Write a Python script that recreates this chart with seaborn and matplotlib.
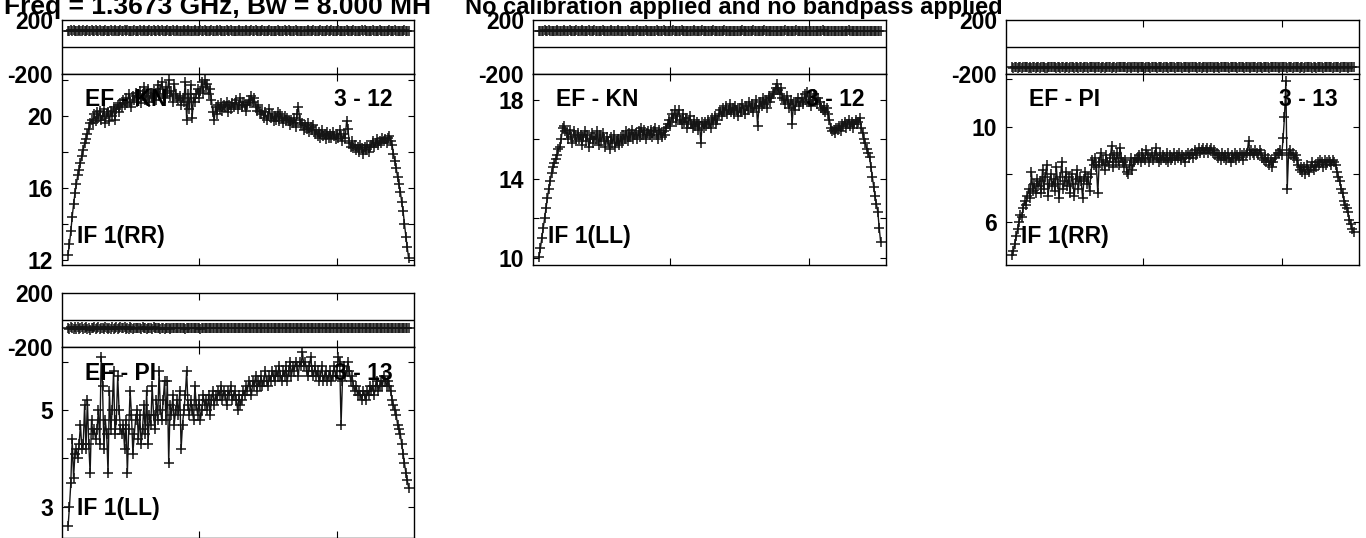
import numpy as np
import pandas as pd
import matplotlib
matplotlib.use("Agg")
import matplotlib.pyplot as plt
import seaborn as sns

# ---------------- data ----------------
FIRST_CHANNEL = 5
title_left = "Freq = 1.3673 GHz, Bw = 8.000 MH"
title_right = "No calibration applied and no bandpass applied"

baselines = ["EF - KN", "EF - KN", "EF - PI", "EF - PI"]
antenna_pairs = ["3 - 12", "3 - 12", "3 - 13", "3 - 13"]
if_labels = ["IF 1(RR)", "IF 1(LL)", "IF 1(RR)", "IF 1(LL)"]

amp_kn_rr = [
    12.3, 12.9, 13.6, 14.4, 15.1, 15.7, 16.2, 16.7, 17.0, 17.4,
    17.8, 18.1, 18.5, 18.7, 19.0, 19.3, 19.6, 19.8, 19.6, 20.1,
    19.7, 20.2, 19.9, 20.3, 19.8, 20.0, 20.4, 19.6, 20.1, 20.2,
    19.7, 20.3, 20.0, 20.5, 19.8, 20.4, 20.6, 20.2, 20.7, 20.5,
    20.9, 20.6, 21.0, 20.7, 21.2, 20.8, 20.5, 21.1, 20.9, 21.3,
    20.8, 21.0, 21.4, 20.7, 21.2, 21.6, 20.9, 21.1, 21.5, 20.8,
    21.3, 21.0, 21.4, 21.2, 20.9, 21.7, 21.1, 21.5, 21.9, 21.2,
    21.0, 21.6, 21.3, 22.0, 21.1, 21.4, 20.8, 21.8, 21.2, 21.0,
    20.9, 21.1, 20.6, 21.0, 20.8, 21.9, 19.8, 21.2, 20.4, 21.7,
    19.9, 21.0, 20.8, 21.2, 21.5, 21.0, 21.4, 21.9, 21.3, 22.0,
    21.6, 21.8, 21.2, 21.5, 20.9, 20.2, 19.8, 20.5, 20.1, 20.6,
    20.4, 20.7, 20.3, 20.6, 20.5, 20.8, 20.2, 20.6, 20.4, 20.7,
    20.5, 20.7, 20.9, 20.4, 20.6, 21.0, 20.5, 20.8, 20.6, 20.3,
    20.6, 20.9, 20.7, 21.1, 20.8, 21.0, 20.5, 20.3, 20.6, 20.2,
    20.1, 20.3, 19.9, 20.2, 19.8, 20.0, 20.4, 19.9, 20.1, 19.7,
    20.0, 19.8, 20.2, 19.7, 20.1, 19.9, 19.6, 20.0, 19.8, 19.9,
    19.7, 19.5, 19.8, 19.6, 19.9, 19.4, 20.1, 20.5, 19.8, 19.5,
    19.6, 19.2, 19.5, 19.3, 19.6, 19.1, 19.4, 19.2, 19.5, 19.0,
    19.2, 18.9, 19.1, 18.8, 19.2, 18.9, 19.0, 18.7, 19.1, 18.8,
    19.0, 18.8, 19.1, 18.9, 18.7, 19.0, 18.8, 19.2, 18.9, 18.6,
    19.0, 18.8, 19.7, 19.3, 18.5, 18.3, 18.6, 18.2, 18.4, 18.1,
    18.3, 18.0, 18.4, 18.2, 17.9, 18.3, 18.1, 18.4, 18.0, 18.3,
    18.4, 18.6, 18.3, 18.5, 18.7, 18.4, 18.6, 18.5, 18.8, 18.6,
    18.7, 18.5, 18.8, 18.9, 18.6, 18.4, 17.9, 17.5, 17.1, 16.6,
    16.2, 15.8, 15.2, 14.7, 14.0, 13.3, 12.7, 12.1,
]

amp_kn_ll = [
    10.05, 10.5, 11.0, 11.5, 12.0, 12.5, 13.0, 13.5, 13.9, 14.3,
    14.6, 14.8, 15.0, 15.2, 15.5, 15.6, 16.0, 16.6, 16.7, 16.4,
    16.3, 16.0, 16.5, 16.1, 15.8, 16.4, 16.2, 15.9, 16.3, 16.0,
    16.2, 15.7, 16.1, 16.4, 15.9, 16.2, 15.6, 16.0, 16.3, 15.8,
    16.1, 16.0, 16.4, 15.7, 16.2, 15.9, 16.3, 16.0, 15.6, 16.1,
    15.9, 15.5, 16.1, 15.8, 16.2, 15.6, 15.9, 16.0, 15.7, 16.1,
    15.8, 16.2, 16.0, 16.4, 15.9, 16.3, 16.1, 16.5, 16.0, 16.2,
    16.3, 16.0, 16.4, 16.1, 16.6, 16.2, 16.5, 16.0, 16.3, 16.4,
    16.2, 16.5, 16.1, 16.4, 16.6, 16.2, 16.0, 16.5, 16.3, 16.1,
    16.4, 16.2, 16.6, 16.8, 17.0, 16.7, 17.3, 17.1, 17.5, 16.9,
    17.2, 17.5, 17.0, 16.8, 17.3, 16.9, 17.1, 16.6, 16.9, 17.2,
    16.8, 16.6, 17.0, 16.7, 16.9, 16.5, 16.8, 15.8, 16.9, 16.6,
    16.9, 16.7, 17.0, 16.8, 16.6, 17.1, 16.9, 17.2, 16.8, 17.0,
    17.3, 17.5, 17.2, 17.6, 17.4, 17.7, 17.3, 17.5, 17.8, 17.4,
    17.6, 17.3, 17.7, 17.5, 17.2, 17.6, 17.4, 17.8, 17.5, 17.3,
    17.7, 17.5, 17.9, 17.6, 17.8, 17.4, 17.7, 18.0, 16.7, 17.6,
    17.9, 17.7, 18.1, 17.8, 18.0, 17.6, 18.2, 17.9, 18.1, 18.3,
    18.4, 18.6, 18.8, 18.5, 18.3, 18.6, 18.1, 18.0, 17.8, 18.2,
    17.9, 17.6, 18.0, 16.8, 17.8, 17.5, 17.9, 18.1, 17.7, 17.9,
    18.1, 17.8, 18.3, 18.0, 18.4, 17.9, 18.2, 17.7, 18.0, 18.3,
    18.0, 17.8, 18.1, 17.9, 17.6, 17.5, 17.7, 17.4, 17.6, 17.3,
    17.0, 16.6, 16.4, 16.5, 16.3, 16.6, 16.5, 16.7, 16.4, 16.8,
    16.7, 16.9, 16.6, 16.8, 17.0, 16.7, 16.9, 16.6, 16.8, 17.0,
    16.8, 16.9, 17.1, 16.6, 16.3, 16.0, 15.8, 15.5, 15.3, 15.1,
    14.6, 14.1, 13.6, 13.1, 12.7, 12.3, 11.5, 10.8,
]

amp_pi_rr = [
    4.6, 4.8, 5.1, 5.4, 5.7, 6.0, 6.3, 6.2, 6.6, 6.9,
    6.7, 7.1, 7.4, 7.0, 8.1, 7.3, 7.6, 7.2, 7.8, 7.5,
    7.7, 7.2, 8.2, 7.4, 7.9, 8.4, 7.1, 7.6, 8.0, 7.5,
    7.8, 7.3, 8.3, 7.6, 7.0, 7.9, 8.5, 7.4, 7.7, 8.1,
    7.5, 7.9, 7.2, 8.0, 7.6, 7.1, 7.8, 8.2, 7.4, 7.9,
    7.7, 7.0, 7.8, 8.1, 7.6, 7.9, 7.3, 8.0, 8.6, 8.4,
    8.7, 8.3, 7.2, 8.5, 8.9, 8.4, 8.6, 8.2, 8.8, 8.5,
    8.4, 8.7, 9.2, 8.3, 8.8, 8.5, 8.9, 8.4, 9.1, 8.7,
    8.5, 8.3, 8.6, 8.1, 8.0, 8.4, 8.7, 8.2, 8.5, 8.6,
    8.7, 8.6, 8.8, 8.5, 8.9, 8.7, 8.6, 9.0, 8.8, 8.5,
    8.7, 8.9, 8.6, 8.8, 9.1, 8.7, 8.5, 8.9, 8.6, 8.8,
    8.7, 8.6, 8.9, 8.5, 8.8, 8.6, 8.7, 8.9, 8.6, 8.8,
    8.7, 8.9, 8.6, 8.8, 8.7, 8.5, 8.8, 8.9, 8.7, 8.8,
    8.9, 8.7, 9.0, 8.8, 8.9, 9.1, 8.9, 9.0, 9.1, 8.9,
    9.0, 9.1, 8.9, 9.0, 9.1, 8.9, 9.0, 8.8, 8.9, 8.7,
    8.8, 8.6, 8.9, 8.7, 8.8, 8.6, 8.9, 8.7, 8.5, 8.8,
    8.7, 8.9, 8.6, 8.8, 8.7, 8.9, 8.8, 8.6, 8.9, 8.8,
    8.9, 9.4, 8.8, 9.0, 8.9, 8.8, 9.0, 8.9, 8.8, 9.0,
    8.9, 8.7, 8.6, 8.8, 8.5, 8.7, 8.4, 8.6, 8.3, 8.5,
    8.7, 8.8, 8.9, 8.9, 9.0, 8.8, 9.5, 10.4, 11.9, 7.4,
    8.9, 9.0, 8.8, 8.9, 8.7, 8.8, 8.6, 8.4, 8.2, 8.3,
    8.1, 8.3, 8.0, 8.4, 8.2, 8.1, 8.3, 8.5, 8.2, 8.4,
    8.3, 8.5, 8.4, 8.6, 8.5, 8.3, 8.6, 8.4, 8.5, 8.6,
    8.5, 8.4, 8.6, 8.5, 8.4, 8.1, 7.9, 7.7, 7.4, 7.2,
    6.9, 6.7, 6.6, 6.4, 6.1, 5.9, 5.7, 5.6,
]

amp_pi_ll = [
    2.6, 3.0, 3.5, 4.4, 3.6, 4.1, 4.2, 4.0, 4.3, 4.7,
    4.2, 4.3, 5.1, 4.2, 5.2, 4.3, 3.7, 4.8, 4.5, 4.6,
    4.4, 4.6, 5.0, 4.3, 6.1, 5.5, 4.2, 4.8, 4.5, 3.7,
    5.4, 4.6, 5.0, 5.8, 4.5, 4.8, 5.7, 5.0, 4.6, 4.5,
    4.7, 4.2, 4.8, 3.7, 4.6, 5.4, 4.9, 4.1, 4.5, 4.8,
    5.0, 4.4, 4.9, 4.3, 4.6, 5.1, 4.5, 5.4, 4.3, 4.9,
    4.7, 5.5, 4.9, 4.6, 5.2, 4.8, 5.8, 5.0, 4.8, 5.2,
    5.6, 4.8, 5.6, 3.9, 5.1, 4.9, 5.3, 4.7, 5.0, 5.2,
    4.9, 5.4, 4.2, 4.7, 5.0, 5.3, 5.8, 5.1, 4.9, 5.2,
    5.0, 4.8, 5.5, 5.1, 4.9, 5.2, 4.8, 5.0, 5.3, 5.1,
    5.2, 5.0, 5.3, 4.9, 5.2, 5.4, 5.1, 5.3, 5.2, 5.4,
    5.3, 5.5, 5.2, 5.4, 5.3, 5.1, 5.4, 5.3, 5.5, 5.2,
    5.3, 5.4, 5.2, 5.0, 5.3, 5.1, 5.2, 5.4, 5.3, 5.5,
    5.4, 5.6, 5.5, 5.3, 5.6, 5.5, 5.7, 5.4, 5.6, 5.5,
    5.7, 5.5, 5.6, 5.8, 5.6, 5.5, 5.7, 5.6, 5.8, 5.7,
    5.6, 5.8, 5.7, 5.9, 5.7, 5.6, 5.8, 5.7, 5.9, 5.6,
    5.8, 6.0, 5.7, 5.9, 5.8, 6.0, 5.9, 5.7, 6.0, 5.9,
    6.2, 5.9, 6.0, 5.8, 5.7, 5.9, 6.1, 5.8, 5.7, 5.9,
    5.7, 5.8, 5.6, 5.7, 5.9, 5.6, 5.7, 5.8, 5.6, 5.7,
    5.8, 5.6, 5.7, 5.9, 5.7, 5.8, 6.1, 6.0, 4.7, 5.6,
    5.9, 5.7, 5.8, 6.0, 5.8, 5.6, 5.7, 5.5, 5.4, 5.5,
    5.3, 5.4, 5.3, 5.2, 5.4, 5.3, 5.2, 5.4, 5.3, 5.5,
    5.4, 5.5, 5.3, 5.5, 5.6, 5.4, 5.5, 5.6, 5.5, 5.7,
    5.6, 5.5, 5.6, 5.5, 5.4, 5.2, 5.1, 5.0, 4.9, 4.7,
    4.6, 4.5, 4.3, 4.1, 3.9, 3.7, 3.55, 3.4,
]

phase_kn_rr = [
    121, 118, 123, 120, 125, 119, 122, 117, 124, 121,
    120, 123, 118, 122, 126, 119, 121, 124, 117, 122,
    123, 120, 119, 125, 121, 118, 122, 124, 120, 119,
    122, 125, 118, 121, 123, 120, 117, 122, 124, 121,
    119, 123, 121, 126, 120, 118, 122, 121, 124, 119,
    121, 117, 123, 120, 122, 125, 119, 121, 118, 123,
    120, 122, 124, 119, 121, 123, 118, 120, 125, 122,
    119, 121, 123, 120, 118, 122, 124, 121, 119, 123,
    122, 120, 117, 121, 124, 122, 119, 123, 120, 121,
    118, 122, 125, 120, 121, 119, 123, 122, 118, 124,
    121, 120, 122, 119, 123, 121, 118, 122, 124, 120,
    123, 119, 121, 122, 120, 125, 118, 121, 123, 119,
    120, 122, 121, 118, 124, 120, 122, 119, 121, 123,
    122, 118, 120, 123, 121, 119, 124, 122, 120, 121,
    119, 123, 122, 120, 118, 121, 124, 120, 122, 119,
    121, 120, 123, 119, 122, 118, 121, 124, 120, 122,
    123, 121, 119, 122, 120, 124, 121, 118, 122, 120,
    120, 122, 118, 121, 123, 119, 122, 121, 124, 120,
    122, 119, 121, 124, 120, 122, 118, 121, 123, 119,
    121, 123, 120, 118, 122, 121, 124, 119, 120, 122,
    119, 121, 123, 120, 122, 118, 121, 123, 120, 121,
    122, 120, 119, 123, 121, 124, 120, 118, 122, 121,
    120, 123, 121, 119, 122, 120, 124, 121, 118, 122,
    121, 119, 122, 124, 120, 121, 118, 123, 122, 120,
    119, 122, 120, 121, 123, 118, 121, 120,
]

phase_kn_ll = [
    119, 122, 117, 121, 124, 118, 120, 123, 116, 121,
    122, 118, 121, 125, 119, 120, 117, 122, 124, 119,
    118, 121, 123, 117, 120, 122, 119, 124, 121, 118,
    120, 123, 119, 121, 117, 122, 124, 120, 118, 121,
    123, 119, 120, 122, 118, 121, 125, 119, 120, 122,
    117, 121, 123, 119, 120, 118, 122, 124, 121, 119,
    122, 120, 118, 121, 123, 119, 120, 122, 117, 121,
    120, 124, 119, 121, 122, 118, 120, 123, 121, 119,
    121, 118, 122, 120, 119, 123, 121, 117, 122, 120,
    123, 120, 118, 121, 122, 119, 120, 124, 121, 118,
    120, 122, 119, 123, 120, 118, 121, 122, 119, 121,
    118, 121, 123, 120, 119, 122, 120, 118, 123, 121,
    121, 119, 120, 122, 118, 121, 123, 120, 119, 122,
    120, 122, 119, 121, 123, 120, 118, 121, 122, 119,
    122, 120, 121, 118, 122, 119, 121, 123, 120, 118,
    119, 121, 122, 120, 118, 123, 120, 119, 121, 122,
    121, 118, 120, 123, 121, 119, 122, 120, 118, 121,
    120, 122, 121, 119, 120, 122, 118, 121, 123, 120,
    118, 121, 120, 122, 119, 121, 123, 119, 120, 122,
    121, 119, 122, 120, 121, 118, 120, 122, 121, 119,
    120, 122, 118, 121, 120, 123, 119, 121, 122, 120,
    119, 121, 122, 120, 118, 121, 122, 120, 119, 121,
    122, 119, 120, 121, 123, 120, 118, 122, 120, 121,
    120, 122, 119, 121, 120, 122, 121, 119, 120, 122,
    121, 119, 120, 122, 120, 121, 119, 121,
]

phase_pi_rr = [
    -149, -152, -147, -151, -154, -148, -150, -153, -146, -151,
    -150, -147, -152, -149, -155, -150, -148, -152, -146, -151,
    -153, -149, -150, -147, -152, -154, -149, -151, -148, -150,
    -151, -148, -153, -150, -147, -152, -149, -151, -154, -150,
    -148, -152, -150, -147, -151, -153, -149, -150, -152, -148,
    -150, -153, -149, -151, -148, -152, -150, -147, -151, -149,
    -152, -150, -148, -151, -153, -149, -150, -152, -148, -151,
    -149, -151, -153, -150, -148, -152, -149, -151, -150, -147,
    -151, -149, -150, -152, -148, -151, -153, -150, -149, -151,
    -150, -152, -148, -151, -149, -150, -152, -148, -151, -150,
    -152, -149, -151, -150, -148, -152, -150, -151, -149, -153,
    -150, -148, -151, -152, -149, -150, -151, -148, -152, -150,
    -149, -151, -150, -152, -148, -150, -151, -149, -152, -150,
    -151, -150, -148, -151, -152, -149, -150, -152, -149, -151,
    -150, -152, -149, -150, -151, -148, -152, -150, -149, -151,
    -152, -149, -151, -150, -148, -151, -150, -152, -149, -150,
    -150, -151, -149, -152, -150, -148, -151, -150, -152, -149,
    -151, -150, -152, -149, -150, -151, -148, -152, -150, -151,
    -149, -152, -150, -151, -149, -150, -152, -148, -151, -150,
    -150, -148, -151, -152, -150, -149, -151, -150, -148, -152,
    -151, -150, -149, -152, -150, -151, -148, -150, -152, -149,
    -150, -152, -151, -149, -150, -148, -151, -152, -150, -149,
    -152, -150, -149, -151, -150, -152, -149, -151, -150, -148,
    -150, -151, -152, -149, -151, -150, -149, -152, -150, -151,
    -149, -151, -150, -152, -149, -151, -150, -149,
]

phase_pi_ll = [
    -58, -66, -52, -61, -70, -55, -63, -49, -67, -59,
    -54, -68, -60, -51, -65, -57, -71, -56, -62, -50,
    -64, -58, -53, -69, -61, -56, -66, -52, -60, -64,
    -57, -63, -51, -67, -59, -55, -65, -61, -53, -62,
    -60, -54, -66, -58, -63, -52, -61, -67, -57, -59,
    -62, -56, -60, -65, -54, -61, -58, -63, -57, -60,
    -59, -64, -55, -61, -62, -57, -60, -65, -58, -61,
    -63, -57, -60, -59, -64, -56, -61, -62, -58, -60,
    -60, -62, -57, -61, -59, -63, -58, -60, -62, -59,
    -61, -58, -62, -60, -59, -61, -63, -58, -60, -61,
    -62, -59, -60, -61, -58, -62, -60, -59, -61, -60,
    -59, -61, -62, -60, -58, -61, -60, -62, -59, -60,
    -61, -60, -59, -62, -60, -61, -59, -60, -62, -61,
    -60, -62, -61, -59, -60, -61, -62, -60, -59, -61,
    -62, -60, -61, -59, -61, -60, -62, -61, -59, -60,
    -61, -59, -60, -62, -61, -60, -59, -61, -62, -60,
    -60, -61, -62, -59, -60, -61, -60, -62, -61, -59,
    -61, -60, -59, -61, -62, -60, -61, -59, -60, -62,
    -60, -62, -61, -60, -59, -61, -62, -60, -61, -60,
    -59, -61, -60, -62, -60, -59, -61, -60, -62, -61,
    -61, -60, -62, -59, -61, -60, -61, -62, -60, -59,
    -60, -62, -61, -60, -59, -61, -60, -62, -61, -60,
    -62, -60, -59, -61, -60, -62, -61, -59, -60, -61,
    -60, -61, -62, -60, -61, -59, -60, -62, -61, -60,
    -61, -60, -62, -59, -61, -60, -62, -61,
]

amp_series = [amp_kn_rr, amp_kn_ll, amp_pi_rr, amp_pi_ll]
phase_series = [phase_kn_rr, phase_kn_ll, phase_pi_rr, phase_pi_ll]

phase_ticks = [-200, 200]
amp_ticks = [[12, 14, 16, 18, 20, 22], [10, 12, 14, 16, 18], [6, 8, 10, 12], [3, 4, 5, 6]]
amp_tick_labels = [["12", "", "16", "", "20", ""], ["10", "", "14", "", "18"],
                   ["6", "", "10", ""], ["3", "", "5", ""]]
amp_limits = [(11.72, 22.33), (9.62, 19.32), (4.2, 12.2), (2.36, 6.30)]
channel_ticks = [100, 200]
channel_limits = (0.6, 255.9)

# ---------------- style ----------------
sns.set_theme(style="white")
plt.rcParams["font.family"] = ["Liberation Sans", "DejaVu Sans"]
plt.rcParams["font.weight"] = "bold"
plt.rcParams["axes.unicode_minus"] = False
plt.rcParams["axes.linewidth"] = 1.0
plt.rcParams["axes.edgecolor"] = "black"

W, H = 1366, 538
fig = plt.figure(figsize=(W / 100, H / 100), dpi=100)
fig.patch.set_facecolor("white")


def px_axes(left, right, top, bottom):
    return fig.add_axes([left / W, 1 - bottom / H, (right - left) / W, (bottom - top) / H])


# panel boxes in pixels: (left, right, phase_top, split, amp_bottom)
boxes = [
    (62, 414, 20, 74, 265),
    (533, 886, 20, 74, 265),
    (1006, 1359, 20, 74, 265),
    (62, 414, 293, 347, 538),
]

FS = 16.5
line_kws = dict(color="#141414", marker="+", markersize=7.2, markeredgewidth=1.1,
                markeredgecolor="#141414", linewidth=1.0, estimator=None, sort=False)

for i, (l, r, t, m, b) in enumerate(boxes):
    amp = amp_series[i]
    ph = phase_series[i]
    df_amp = pd.DataFrame({"channel": FIRST_CHANNEL + np.arange(len(amp)), "amp": amp})
    df_ph = pd.DataFrame({"channel": FIRST_CHANNEL + np.arange(len(ph)), "phase": ph})

    ax_ph = px_axes(l, r, t, m)
    ax_amp = px_axes(l, r, m, b)

    sns.lineplot(data=df_ph, x="channel", y="phase", ax=ax_ph, **line_kws)
    ax_ph.axhline(0, color="black", linewidth=1.0)
    ax_ph.set_ylim(-200, 200)
    ax_ph.set_yticks(phase_ticks)
    ax_ph.set_yticklabels([str(v) for v in phase_ticks])
    ax_ph.set_xlim(*channel_limits)
    ax_ph.set_xticks(channel_ticks)
    ax_ph.set_xticklabels([])
    ax_ph.tick_params(axis="x", direction="in", top=True, bottom=True, length=5,
                      width=0.8, color="black")
    ax_ph.tick_params(axis="y", direction="in", length=0, pad=6.5,
                      labelsize=FS, labelcolor="black")

    sns.lineplot(data=df_amp, x="channel", y="amp", ax=ax_amp, **line_kws)
    ax_amp.set_ylim(*amp_limits[i])
    ax_amp.set_yticks(amp_ticks[i])
    ax_amp.set_yticklabels(amp_tick_labels[i])
    ax_amp.set_xlim(*channel_limits)
    ax_amp.set_xticks(channel_ticks)
    ax_amp.set_xticklabels([])
    ax_amp.tick_params(axis="x", direction="in", top=True, bottom=True, length=5,
                       width=0.8, color="black")
    ax_amp.tick_params(axis="y", direction="in", left=True, right=True, length=4.5,
                       width=0.8, pad=6.5, labelsize=FS, labelcolor="black", color="black")

    for ax in (ax_ph, ax_amp):
        ax.set_xlabel("")
        ax.set_ylabel("")
        ax.set_facecolor("white")
        for s in ax.spines.values():
            s.set_color("black")
            s.set_linewidth(1.0)
        for lab in ax.get_yticklabels():
            lab.set_fontweight("bold")

    wpx = r - l
    hpx = b - m
    ax_amp.text(23 / wpx, 1 - 26 / hpx, baselines[i], transform=ax_amp.transAxes,
                ha="left", va="center", fontsize=FS, fontweight="bold", color="black")
    ax_amp.text(1 - 21 / wpx, 1 - 26 / hpx, antenna_pairs[i], transform=ax_amp.transAxes,
                ha="right", va="center", fontsize=FS, fontweight="bold", color="black")
    ax_amp.text(15 / wpx, 29 / hpx, if_labels[i], transform=ax_amp.transAxes,
                ha="left", va="center", fontsize=FS, fontweight="bold", color="black")

fig.text(4 / W, 1 - 14 / H, title_left, ha="left", va="baseline",
         fontsize=19, fontweight="bold", color="black")
fig.text(465 / W, 1 - 14 / H, title_right, ha="left", va="baseline",
         fontsize=17, fontweight="bold", color="black")

fig.savefig("out.png", dpi=100, facecolor="white")
